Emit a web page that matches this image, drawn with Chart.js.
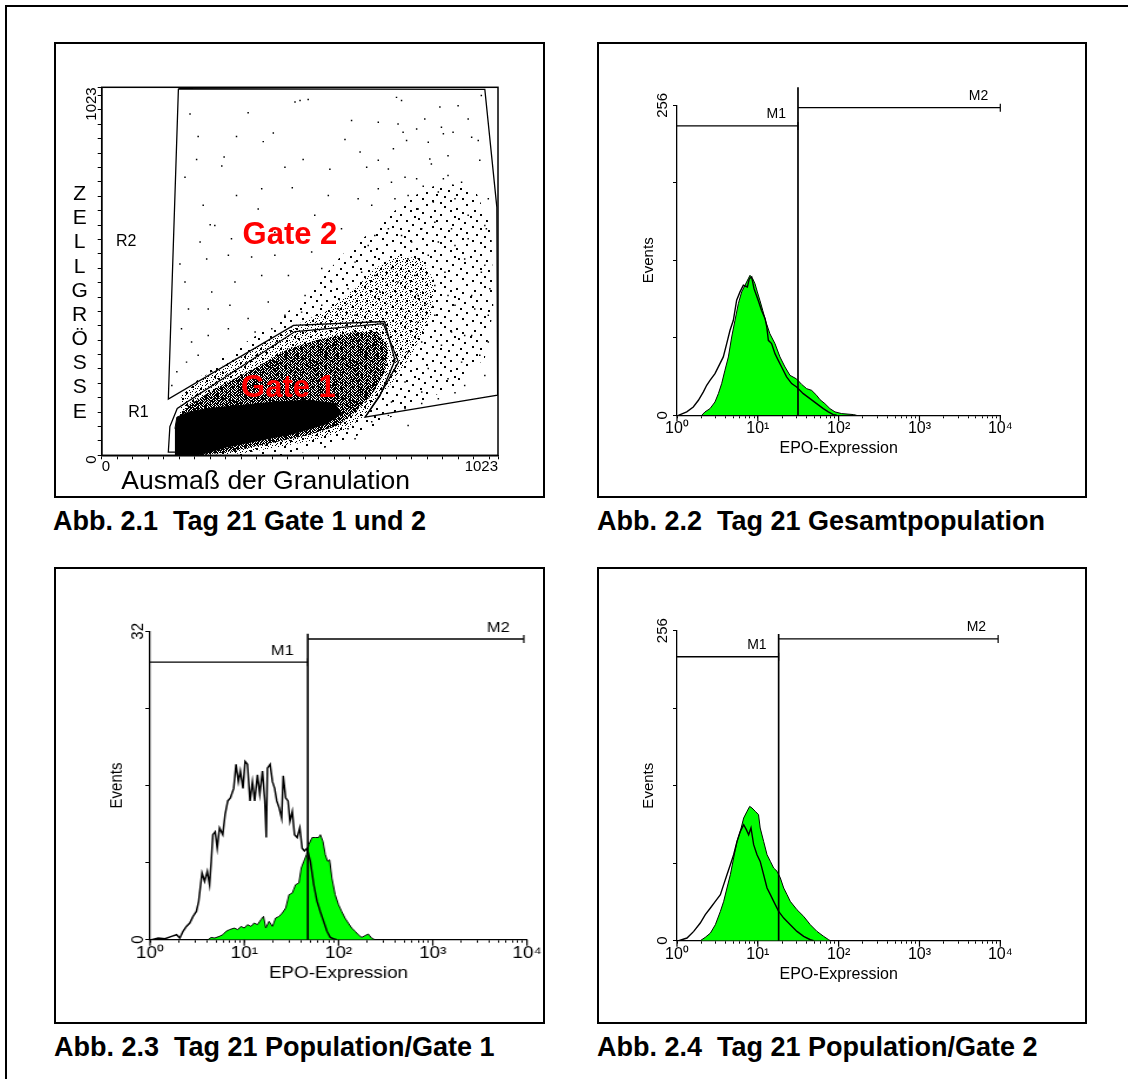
<!DOCTYPE html>
<html lang="de">
<head>
<meta charset="utf-8">
<title>Abb. 2.1 - 2.4 Tag 21</title>
<script src="https://cdn.jsdelivr.net/npm/chart.js@4.4.1/dist/chart.umd.min.js"></script>
<style>
  html, body { margin: 0; padding: 0; background: #fff; }
  body { width: 1128px; height: 1079px; position: relative; overflow: hidden;
         font-family: "Liberation Sans", Arial, sans-serif; color: #000; }
  .frame { position: absolute; left: 5px; top: 5px; width: 1300px; height: 1300px; border: 2px solid #000; }
  .panel { position: absolute; box-sizing: border-box; border: 2px solid #000; overflow: hidden; background: #fff; }
  .panel canvas { position: absolute; left: 0; top: 0; }
  .caption { position: absolute; font-weight: bold; font-size: 27px; line-height: 30px; white-space: pre; }
</style>
</head>
<body>
<div class="frame"></div>

<div class="panel" style="left:54px;top:42px;width:491px;height:456px">
  <canvas id="dotPlot" width="487" height="452"></canvas>
</div>
<div class="panel" style="left:597px;top:42px;width:490px;height:456px">
  <canvas id="histAll" width="486" height="452"></canvas>
</div>
<div class="panel" style="left:54px;top:567px;width:491px;height:457px">
  <!-- diese Abbildung ist im Original horizontal gestreckt -->
  <canvas id="histGate1" width="414" height="453" style="transform:scaleX(1.1755);transform-origin:0 0"></canvas>
</div>
<div class="panel" style="left:597px;top:567px;width:490px;height:457px">
  <canvas id="histGate2" width="486" height="453"></canvas>
</div>

<div class="caption" style="left:53px;top:506px">Abb. 2.1  Tag 21 Gate 1 und 2</div>
<div class="caption" style="left:597px;top:506px">Abb. 2.2  Tag 21 Gesamtpopulation</div>
<div class="caption" style="left:54px;top:1032px">Abb. 2.3  Tag 21 Population/Gate 1</div>
<div class="caption" style="left:597px;top:1032px">Abb. 2.4  Tag 21 Population/Gate 2</div>

<script>
// ---------- Abb. 2.1: Dot-Plot, Granulation (x) gegen Zellgröße (y), Kanäle 0-1023 ----------

// einzelne Ereignisse außerhalb der dichten Wolke
const dotX = [
    499, 512, 533, 761, 774, 228, 378, 873, 920, 645,
    714, 765, 834, 249, 348, 417, 443, 628, 778, 787,
    813, 877, 882, 907, 955, 972, 316, 245, 520, 667,
    753, 847, 851, 894, 976, 215, 310, 473, 589, 684,
    714, 740, 783, 813, 830, 869, 912, 929, 882, 856,
    989, 348, 413, 492, 662, 697, 757, 791, 817, 262,
    280, 292, 396, 447, 254, 335, 705, 740, 774, 800,
    826, 869, 903, 946, 993, 202, 271, 327, 387, 447,
    542, 568, 654, 705, 748, 791, 843, 886, 937, 989,
    215, 284, 344, 413, 482, 525, 593, 636, 671, 718,
    765, 817, 860, 912, 955, 1002, 224, 275, 331, 378,
    430, 473, 516, 568, 611, 654, 774, 817, 860, 903,
    955, 998, 877, 929, 976, 826, 791, 843, 894, 937,
    783, 826, 748, 989,
    206, 232, 219, 249, 275, 327, 396, 439, 181, 194,
    636, 654, 697, 740, 783, 826, 869, 912, 791,
    748, 894, 946, 912, 980, 937, 894, 963, 834, 998,
    714, 860, 808, 688, 619, 550, 482, 404, 585, 998,
    843, 946, 980
];
const dotY = [
    982, 986, 989, 995, 986, 949, 952, 968, 972, 931,
    926, 921, 935, 886, 886, 872, 896, 878, 898, 875,
    907, 912, 894, 898, 884, 875, 829, 822, 822, 843,
    852, 824, 810, 833, 820, 773, 804, 801, 795, 801,
    820, 796, 773, 769, 748, 732, 713, 759, 769, 704,
    639, 722, 741, 744, 713, 695, 713, 722, 685, 695,
    641, 639, 644, 620, 593, 602, 611, 630, 611, 593,
    630, 593, 630, 602, 630, 532, 546, 556, 551, 556,
    565, 519, 537, 500, 519, 546, 556, 509, 546, 528,
    482, 454, 482, 500, 500, 444, 482, 463, 509, 454,
    482, 444, 472, 417, 444, 463, 407, 407, 417, 380,
    426, 389, 398, 417, 407, 389, 407, 370, 389, 343,
    333, 389, 306, 259, 278, 315, 287, 241, 213, 194,
    204, 176, 148, 222,
    352, 315, 259, 278, 333, 352, 343, 352, 194, 232,
    74, 46, 93, 111, 130, 144, 157, 174, 83,
    759, 778, 667, 583, 509, 333, 444, 407, 417, 315,
    741, 648, 500, 583, 630, 667, 593, 685, 722, 713,
    870, 935, 1000
];

// Gate-Grenzen R2 (groß) und R1 (Gate 1)
const r2GateX = [198, 989, 1020, 1022, 680, 718, 757, 730, 495, 172, 198];
const r2GateY = [1019, 1017, 690, 167, 106, 165, 264, 372, 361, 156, 1019];
const r1GateX = [192, 172, 176, 195, 499, 727, 766, 718, 680];
const r1GateY = [9, 9, 80, 130, 344, 366, 259, 167, 106];

// Umrisse der Dichtezonen der Punktwolke (von fast schwarz bis locker)
const coreX = [189, 249, 323, 409, 495, 581, 619, 602, 533, 447, 361, 275, 224, 194, 189];
const coreY = [0, 0, 23, 42, 60, 88, 116, 144, 153, 148, 139, 130, 120, 106, 74];
const denseX = [194, 224, 292, 378, 482, 568, 654, 714, 740, 731, 697, 654, 611, 533, 430, 327, 258, 191];
const denseY = [102, 139, 185, 232, 296, 324, 343, 343, 296, 232, 167, 120, 83, 56, 32, 9, 0, 0];
const mediumX = [206, 267, 361, 482, 585, 654, 705, 765, 826, 860, 851, 808, 765, 722, 679, 636, 568, 482, 361, 241, 194];
const mediumY = [167, 222, 278, 352, 407, 463, 519, 556, 546, 482, 389, 296, 222, 167, 111, 74, 46, 28, 5, 0, 0];
const looseX = [200, 292, 413, 533, 619, 705, 791, 877, 963, 1006, 1011, 989, 912, 808, 722, 654, 585, 482, 206];
const looseY = [157, 259, 343, 444, 556, 630, 713, 759, 741, 630, 407, 269, 194, 139, 93, 51, 23, 0, 0];

const channelMax = 1023;

// ---------- Histogramme: EPO-Expression (log) gegen Events ----------
const decadeValues = [1, 10, 100, 1000, 10000];
const decadeLabels = ['10⁰', '10¹', '10²', '10³', '10⁴'];

// Abb. 2.2 Gesamtpopulation (0-256)
const allBlackX = [1.04, 1.32, 1.59, 1.84, 2.12, 2.33, 2.56, 2.95, 3.40, 3.74, 4.12, 4.53, 4.98, 5.47, 6.02, 6.62, 7.42, 7.85, 8.39, 8.97,
    10.1, 11.1, 12.3, 12.9, 13.5, 14.8, 16.3, 17.9, 19.7, 22.7, 26.2, 30.2, 36.5, 44.2, 53.4, 64.6, 74.5, 85.9, 94.5];
const allBlackY = [0, 2.8, 6.9, 12.4, 19.3, 24.8, 28.9, 34.4, 42.7, 48.2, 59.2, 70.2, 78.5, 95.0, 101.9, 107.4, 106.0, 112.9, 114.2, 104.6,
    95.0, 86.7, 79.8, 73.0, 61.9, 59.2, 50.9, 45.4, 39.9, 31.7, 26.2, 23.4, 17.9, 13.8, 9.6, 5.5, 2.8, 0.6, 0];
const allGreenX = [2.02, 2.22, 2.56, 2.95, 3.25, 3.57, 3.92, 4.32, 4.75, 5.22, 5.74, 6.31, 6.94, 7.63, 8.00, 8.63, 9.22, 9.86, 10.6, 11.5,
    12.6, 14.1, 16.3, 18.8, 21.7, 25.0, 30.2, 34.9, 40.2, 46.3, 53.4, 58.8, 67.7, 78.1, 90.1, 109, 152, 167];
const allGreenY = [0, 2.8, 5.5, 11.0, 17.9, 26.2, 37.2, 48.2, 64.7, 78.5, 92.2, 101.9, 107.4, 112.9, 115.6, 112.9, 108.7, 101.9, 95.0, 86.7,
    77.1, 67.4, 59.2, 48.2, 39.9, 33.0, 30.0, 25.5, 22.0, 20.6, 16.5, 12.9, 9.6, 5.5, 2.8, 1.4, 0.6, 0];
const allMarkers = { m1: [1, 31.4], m1Y: 239, m2: [31.4, 10000], m2Y: 254, cut: 31.4, cutTop: 271 };

// Abb. 2.3 Population/Gate 1 (0-32)
const g1BlackX = [1.04, 1.22, 1.44, 1.69, 1.91, 2.07, 2.24, 2.43, 2.64, 2.86, 3.10, 3.28, 3.56, 3.79, 4.05, 4.28, 4.46, 4.64, 4.91, 5.16,
    5.46, 5.91, 6.26, 6.68, 7.12, 7.72, 8.17, 8.65, 9.08, 9.68, 10.2, 10.8, 11.5, 12.2, 12.9, 13.8, 14.6, 15.6, 16.5, 17.1,
    17.6, 18.8, 19.9, 21.0, 22.1, 23.4, 24.9, 25.9, 27.5, 29.1, 30.5, 32.3, 34.1, 36.4, 38.8, 41.1, 43.5, 46.4, 50.3, 54.6,
    59.1, 64.1, 69.5, 75.4, 81.7, 88.5, 96.0];
const g1BlackY = [0, 0.17, 0.10, 0.35, 0.52, 0.17, 0.87, 1.38, 1.73, 2.42, 2.94, 3.98, 6.92, 6.06, 7.09, 5.71, 8.13, 10.9, 11.2, 9.5,
    11.6, 10.9, 13.0, 14.4, 14.7, 15.7, 18.2, 16.4, 17.5, 15.7, 18.5, 18.2, 14.4, 16.4, 14.4, 17.1, 15.1, 17.5, 14.4, 10.6,
    17.8, 18.2, 16.4, 15.7, 14.4, 13.7, 12.6, 17.0, 14.7, 14.4, 12.3, 13.3, 10.9, 10.6, 11.6, 9.5, 9.2, 9.5, 8.1, 5.7,
    4.0, 2.9, 1.9, 0.87, 0.24, 0.10, 0];
const g1GreenX = [4.11, 4.46, 4.83, 5.46, 5.91, 6.41, 6.95, 7.85, 8.51, 9.22, 10.0, 10.8, 11.8, 12.7, 13.8, 15.0, 16.0, 16.9, 18.3, 19.9,
    21.5, 23.4, 25.3, 27.5, 29.8, 32.3, 35.0, 37.9, 40.2, 42.8, 45.7, 48.3, 52.4, 56.8, 61.5, 64.1, 68.4, 72.4, 76.6, 80.4,
    85.1, 92.2, 100, 108, 117, 127, 138, 150, 162, 176, 191, 207, 224, 243];
const g1GreenY = [0, 0.24, 0.17, 0.35, 0.52, 0.87, 1.04, 1.21, 1.04, 1.38, 1.21, 1.56, 1.38, 1.73, 1.56, 2.08, 2.42, 1.21, 1.90, 1.38,
    2.25, 2.42, 2.77, 3.29, 4.67, 4.84, 5.71, 5.88, 7.44, 8.13, 8.82, 9.86, 10.6, 10.6, 10.6, 10.9, 10.2, 8.82, 8.13, 8.30,
    6.40, 4.67, 3.63, 2.94, 2.25, 1.73, 1.21, 0.87, 0.52, 0.24, 0.42, 0.59, 0.17, 0];
const g1Markers = { m1: [1, 47.2], m1Y: 28.8, m2: [47.2, 9250], m2Y: 31.2, cut: 47.2, cutTop: 31.75 };

// Abb. 2.4 Population/Gate 2 (0-256)
const g2BlackX = [1.05, 1.33, 1.61, 1.94, 2.24, 2.59, 2.98, 3.44, 3.78, 4.15, 4.57, 5.02, 5.53, 6.07, 6.68, 7.21, 7.70, 8.23, 8.88, 9.77,
    10.7, 11.8, 13.0, 14.3, 15.7, 18.1, 20.9, 25.2, 30.5, 36.9, 44.6, 49.1];
const g2BlackY = [0, 2.2, 7.7, 14.6, 21.5, 27.0, 32.5, 38.0, 46.3, 54.5, 62.8, 71.0, 82.0, 90.3, 95.8, 91.7, 87.5, 93.1, 79.3, 71.0,
    65.5, 54.5, 43.5, 38.0, 32.5, 24.2, 18.7, 13.2, 7.7, 3.6, 0.8, 0];
const g2GreenX = [1.94, 2.24, 2.59, 2.98, 3.44, 3.78, 4.15, 4.57, 5.02, 5.53, 6.07, 6.68, 7.35, 7.93, 8.47, 9.31, 10.2, 10.7, 11.8, 13.0,
    14.3, 15.7, 17.3, 19.0, 20.9, 23.0, 25.2, 30.5, 36.9, 44.6, 53.9, 65.2, 75.2, 78.9];
const g2GreenY = [0, 2.8, 6.3, 13.2, 24.2, 32.5, 43.5, 54.5, 68.3, 82.0, 90.3, 101.3, 106.8, 110.9, 109.6, 106.8, 104.1, 93.1, 82.0, 71.0,
    65.5, 60.0, 57.3, 51.8, 43.5, 38.0, 32.5, 25.6, 20.1, 13.2, 7.7, 3.6, 0.8, 0];
const g2Markers = { m1: [1, 18.1], m1Y: 234.5, m2: [18.1, 9400], m2Y: 249.2, cut: 18.1, cutTop: 253.3 };

// ---------------------------------------------------------------

Chart.defaults.font.family = '"Liberation Sans", Arial, sans-serif';
Chart.defaults.color = '#000';

const FONT = '"Liberation Sans", Arial, sans-serif';
const AXIS_BOX = 30;   // feste Achsenbreite/-höhe, Rest über layout.padding

function pts(xs, ys) {
    return xs.map((x, i) => ({ x: x, y: ys[i] }));
}

// Punktraster für die Dichtezonen ('#' = ein Punkt von cell x cell Pixeln)
function stipple(rows, cell) {
    const c = document.createElement('canvas');
    c.width = rows[0].length * cell;
    c.height = rows.length * cell;
    const g = c.getContext('2d');
    g.fillStyle = '#000';
    rows.forEach((row, y) => {
        for (let x = 0; x < row.length; x++) {
            if (row[x] === '#') g.fillRect(x * cell, y * cell, cell, cell);
        }
    });
    return g.createPattern(c, 'repeat');
}

const denseTile = stipple([
    '##.#.##.',
    '.##.#.##',
    '#.##.##.',
    '##..###.',
    '.##.#.##',
    '#.##.##.',
    '.##.##.#',
    '#.#.#.##'
], 1);
const mediumTile = stipple([
    '#...#.....',
    '......#..#',
    '..#.......',
    '.....#....',
    '.#.......#',
    '.......#..',
    '...#......',
    '#.....#...',
    '....#....#',
    '.#........'
], 1);
const looseTile = stipple([
    '.....#..............',
    '..............#.....',
    '#...................',
    '.........#.......#..',
    '...#................',
    '............#.......',
    '.......#...........#',
    '.#..................',
    '..........#....#....',
    '....#...............',
    '..................#.',
    '........#...........',
    '..#.........#.......',
    '................#...',
    '.....#..............',
    '#.........#.........',
    '..............#.....',
    '...#................',
    '........#........#..',
    '............#.......'
], 2);

// Achsen mit fester Größe, damit die Plotfläche exakt sitzt
const fixWidth = s => { s.width = AXIS_BOX; };
const fixHeight = s => { s.height = AXIS_BOX; };

// ---------- Abb. 2.1 ----------
const channelTicks = [];
for (let v = 0; v <= 1000; v += 40) channelTicks.push(v);
channelTicks.push(channelMax);

const dotPlotDecor = {
    id: 'dotPlotDecor',
    afterDatasetsDraw(chart) {
        const { ctx, chartArea: a, scales: { x, y } } = chart;
        ctx.save();
        // Rahmen
        ctx.strokeStyle = '#000';
        ctx.lineWidth = 1.5;
        ctx.strokeRect(a.left, a.top, a.right - a.left, a.bottom - a.top);

        ctx.fillStyle = '#000';
        ctx.textAlign = 'center';
        ctx.textBaseline = 'middle';
        ctx.font = '16px ' + FONT;
        ctx.fillText('R2', x.getPixelForValue(63), y.getPixelForValue(595));
        ctx.fillText('R1', x.getPixelForValue(95), y.getPixelForValue(118));

        ctx.fillStyle = '#ff0000';
        ctx.font = 'bold 31px ' + FONT;
        ctx.fillText('Gate 2', x.getPixelForValue(486), y.getPixelForValue(612));
        ctx.fillText('Gate 1', x.getPixelForValue(482), y.getPixelForValue(186));

        // Achsentitel
        ctx.fillStyle = '#000';
        ctx.font = '21px ' + FONT;
        'ZELLGRÖSSE'.split('').forEach((ch, i) => {
            ctx.fillText(ch, a.left - 22, a.top + 107 + i * 24.17);
        });
        ctx.font = '26.5px ' + FONT;
        ctx.textBaseline = 'alphabetic';
        ctx.fillText('Ausmaß der Granulation', a.left + 164, a.bottom + 34);
        ctx.restore();
    }
};

new Chart(document.getElementById('dotPlot'), {
    type: 'scatter',
    data: {
        datasets: [
            { data: pts(r1GateX, r1GateY), showLine: true, borderColor: '#000', borderWidth: 1.3, pointRadius: 0 },
            { data: pts(r2GateX, r2GateY), showLine: true, borderColor: '#000', borderWidth: 1.3, pointRadius: 0 },
            { data: pts(dotX, dotY), pointStyle: 'rect', pointRadius: 1.05, backgroundColor: '#000', borderWidth: 0 },
            { data: pts(coreX, coreY), showLine: true, fill: 'shape', backgroundColor: '#000', borderColor: '#000', borderWidth: 1, pointRadius: 0 },
            { data: pts(denseX, denseY), showLine: true, fill: 'shape', backgroundColor: denseTile, borderColor: 'rgba(0,0,0,0)', pointRadius: 0 },
            { data: pts(mediumX, mediumY), showLine: true, fill: 'shape', backgroundColor: mediumTile, borderColor: 'rgba(0,0,0,0)', pointRadius: 0 },
            { data: pts(looseX, looseY), showLine: true, fill: 'shape', backgroundColor: looseTile, borderColor: 'rgba(0,0,0,0)', pointRadius: 0 }
        ]
    },
    options: {
        responsive: false,
        animation: false,
        layout: { padding: { left: 45.7 - AXIS_BOX, right: 45, top: 43.3, bottom: 40.7 - AXIS_BOX } },
        plugins: { legend: { display: false }, tooltip: { enabled: false } },
        scales: {
            x: {
                type: 'linear', min: 0, max: channelMax,
                afterBuildTicks: s => { s.ticks = channelTicks.map(v => ({ value: v })); },
                afterFit: fixHeight,
                ticks: {
                    autoSkip: false, maxRotation: 0, align: 'inner', padding: -1,
                    font: { size: 15 },
                    callback: v => (v === 0 || v === channelMax) ? String(v) : ''
                },
                grid: { drawOnChartArea: false, tickLength: 4, color: '#000' },
                border: { color: '#000', width: 1.5 }
            },
            y: {
                type: 'linear', min: 0, max: channelMax,
                afterBuildTicks: s => { s.ticks = channelTicks.map(v => ({ value: v })); },
                afterFit: fixWidth,
                ticks: {
                    autoSkip: false, minRotation: 90, maxRotation: 90, crossAlign: 'near', padding: 6,
                    font: { size: 15 },
                    callback: v => (v === 0 || v === channelMax) ? String(v) : ''
                },
                grid: { drawOnChartArea: false, tickLength: 4, color: '#000' },
                border: { color: '#000', width: 1.5 }
            }
        }
    },
    plugins: [dotPlotDecor]
});

// ---------- Histogramme ----------
const logTicks = [];
for (let d = 0; d < 4; d++) {
    for (let m = 1; m < 10; m++) logTicks.push(m * Math.pow(10, d));
}
logTicks.push(10000);

function histDecor(markers) {
    return {
        id: 'histDecor',
        afterDatasetsDraw(chart) {
            const { ctx, chartArea: a, scales: { x, y } } = chart;
            ctx.save();
            ctx.strokeStyle = '#000';
            ctx.fillStyle = '#000';
            ctx.lineWidth = 1.2;

            // längere Striche an den Dekaden
            decadeValues.forEach(v => {
                const px = x.getPixelForValue(v);
                ctx.beginPath();
                ctx.moveTo(px, a.bottom);
                ctx.lineTo(px, a.bottom + 6);
                ctx.stroke();
            });

            ctx.font = '14px ' + FONT;
            ctx.textAlign = 'right';
            ctx.textBaseline = 'alphabetic';
            [[markers.m1[1], markers.m1Y, 'M1'], [markers.m2[1], markers.m2Y, 'M2']].forEach(([mx, my, name]) => {
                const px = x.getPixelForValue(mx);
                const py = y.getPixelForValue(my);
                ctx.beginPath();
                ctx.moveTo(px, py - 4);
                ctx.lineTo(px, py + 4);
                ctx.stroke();
                ctx.fillText(name, px - 12, py - 7.5);
            });

            ctx.textAlign = 'center';
            ctx.textBaseline = 'middle';
            ctx.font = '16px ' + FONT;
            ctx.fillText('EPO-Expression', (a.left + a.right) / 2, a.bottom + 33.5);
            ctx.translate(a.left - 28.5, (a.top + a.bottom) / 2);
            ctx.rotate(-Math.PI / 2);
            ctx.font = '15px ' + FONT;
            ctx.fillText('Events', 0, 0);
            ctx.restore();
        }
    };
}

function histChart(id, cfg) {
    const mk = cfg.markers;
    const markerLine = { showLine: true, borderColor: '#000', borderWidth: 1.3, pointRadius: 0 };
    const pad = cfg.plotPadding;
    new Chart(document.getElementById(id), {
        type: 'scatter',
        data: {
            datasets: [
                Object.assign({ data: pts(mk.m1, [mk.m1Y, mk.m1Y]) }, markerLine),
                Object.assign({ data: pts(mk.m2, [mk.m2Y, mk.m2Y]) }, markerLine),
                Object.assign({ data: pts([mk.cut, mk.cut], [0, mk.cutTop]), clip: false }, markerLine, { borderWidth: 1.7 }),
                { data: pts(cfg.blackX, cfg.blackY), showLine: true, borderColor: '#000', borderWidth: cfg.blackWidth, pointRadius: 0 },
                { data: pts(cfg.greenX, cfg.greenY), showLine: true, fill: 'origin', backgroundColor: '#00ff00',
                  borderColor: '#000', borderWidth: 1, pointRadius: 0 }
            ]
        },
        options: {
            responsive: false,
            animation: false,
            layout: { padding: { left: pad.left - AXIS_BOX, right: pad.right, top: pad.top, bottom: pad.bottom - AXIS_BOX } },
            plugins: { legend: { display: false }, tooltip: { enabled: false } },
            scales: {
                x: {
                    type: 'logarithmic', min: 1, max: 10000,
                    afterBuildTicks: s => { s.ticks = logTicks.map(v => ({ value: v })); },
                    afterFit: fixHeight,
                    ticks: {
                        autoSkip: false, maxRotation: 0, minRotation: 0, padding: 1,
                        font: { size: 16 },
                        callback: v => {
                            const i = decadeValues.indexOf(v);
                            return i >= 0 ? decadeLabels[i] : '';
                        }
                    },
                    grid: { drawOnChartArea: false, tickLength: 3, color: '#000' },
                    border: { color: '#000', width: 1.3 }
                },
                y: {
                    type: 'linear', min: 0, max: cfg.yMax,
                    afterFit: fixWidth,
                    ticks: {
                        stepSize: cfg.yMax / 4, autoSkip: false,
                        minRotation: 90, maxRotation: 90, crossAlign: 'center', padding: -2,
                        font: { size: 15 },
                        callback: v => (v === 0 || v === cfg.yMax) ? String(v) : ''
                    },
                    grid: { drawOnChartArea: false, tickLength: 4, color: '#000' },
                    border: { color: '#000', width: 1.3 }
                }
            }
        },
        plugins: [histDecor(mk)]
    });
}

histChart('histAll', {
    yMax: 256, markers: allMarkers, blackWidth: 1.4,
    blackX: allBlackX, blackY: allBlackY, greenX: allGreenX, greenY: allGreenY,
    plotPadding: { left: 78, right: 84.7, top: 61.3, bottom: 80.7 }
});
histChart('histGate1', {
    yMax: 32, markers: g1Markers, blackWidth: 1.5,
    blackX: g1BlackX, blackY: g1BlackY, greenX: g1GreenX, greenY: g1GreenY,
    plotPadding: { left: 80, right: 10.7, top: 62.3, bottom: 82.3 }
});
histChart('histGate2', {
    yMax: 256, markers: g2Markers, blackWidth: 1.4,
    blackX: g2BlackX, blackY: g2BlackY, greenX: g2GreenX, greenY: g2GreenY,
    plotPadding: { left: 78, right: 84.7, top: 61.7, bottom: 81.3 }
});
</script>
</body>
</html>
